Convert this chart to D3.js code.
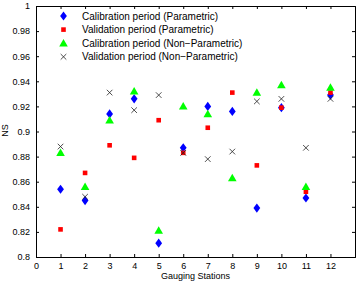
<!DOCTYPE html>
<html>
<head>
<meta charset="utf-8">
<script src="https://cdn.jsdelivr.net/npm/d3@7"></script>
<style>
  body { margin: 0; background: #fff; }
  text { font-family: "Liberation Sans", Arial, sans-serif; }
</style>
</head>
<body>
<div id="chart"></div>
<script>
// stations on the x axis
const stations = [1, 2, 3, 4, 5, 6, 7, 8, 9, 10, 11, 12];

// NS values
const calibParam    = [0.854, 0.845, 0.914, 0.926, 0.811, 0.887, 0.920, 0.916, 0.839, 0.919, 0.847, 0.929];
const validParam    = [0.822, 0.867, 0.889, 0.879, 0.909, 0.883, 0.903, 0.931, 0.873, 0.919, 0.852, 0.931];
const calibNonParam = [0.883, 0.856, 0.909, 0.932, 0.821, 0.920, 0.914, 0.863, 0.931, 0.937, 0.856, 0.935];
const validNonParam = [0.888, 0.848, 0.931, 0.917, 0.929, 0.883, 0.878, 0.884, 0.924, 0.926, 0.887, 0.926];

const seriesNames = [
  "Calibration period (Parametric)",
  "Validation period (Parametric)",
  "Calibration period (Non\u2212Parametric)",
  "Validation period (Non\u2212Parametric)"
];

const xTicks = [0, 1, 2, 3, 4, 5, 6, 7, 8, 9, 10, 11, 12];
const yTicks = [0.8, 0.82, 0.84, 0.86, 0.88, 0.9, 0.92, 0.94, 0.96, 0.98, 1];

const width = 357, height = 282;
const margin = { left: 36, right: 2, top: 6, bottom: 25 };

const svg = d3.select("#chart").append("svg")
  .attr("width", width)
  .attr("height", height);

const x = d3.scaleLinear().domain([0, 13])
  .range([margin.left, width - margin.right]);
const y = d3.scaleLinear().domain([0.8, 1])
  .range([height - margin.bottom, margin.top]);

// ---- axes (MATLAB style, ticks pointing inward) ----
const fmtY = d => d === 1 ? "1" : (d === 0.8 ? "0.8" : (d === 0.9 ? "0.9" : d3.format(".2f")(d)));

const gx = svg.append("g")
  .attr("transform", "translate(0," + y(0.8) + ")")
  .call(d3.axisBottom(x).tickValues(xTicks).tickSize(-3).tickPadding(6).tickFormat(d3.format("d")));
const gxTop = svg.append("g")
  .attr("transform", "translate(0," + y(1) + ")")
  .call(d3.axisTop(x).tickValues(xTicks).tickSize(-3).tickFormat(""));
const gy = svg.append("g")
  .attr("transform", "translate(" + x(0) + ",0)")
  .call(d3.axisLeft(y).tickValues(yTicks).tickSize(-3).tickPadding(6).tickFormat(fmtY));
const gyRight = svg.append("g")
  .attr("transform", "translate(" + x(13) + ",0)")
  .call(d3.axisRight(y).tickValues(yTicks).tickSize(-3).tickFormat(""));

[gx, gxTop, gy, gyRight].forEach(g => {
  g.select(".domain").attr("stroke", "#000").attr("stroke-width", 1);
  g.selectAll(".tick line").attr("stroke", "#000");
  g.selectAll(".tick text").attr("font-size", 9).attr("fill", "#000")
    .style("font-family", "'Liberation Sans', Arial, sans-serif");
});

// axis labels
svg.append("text")
  .attr("x", (x(0) + x(13)) / 2)
  .attr("y", 279)
  .attr("text-anchor", "middle")
  .attr("font-size", 9)
  .text("Gauging Stations");

svg.append("text")
  .attr("transform", "translate(8," + (y(0.9) - 1) + ") rotate(-90)")
  .attr("text-anchor", "middle")
  .attr("font-size", 9)
  .text("NS");

// ---- markers ----
function drawDiamond(g, cx, cy) {
  g.append("path")
    .attr("d", "M0,-4.6L3.4,0L0,4.6L-3.4,0Z")
    .attr("transform", "translate(" + cx + "," + cy + ")")
    .attr("fill", "#0000ff");
}
function drawSquare(g, cx, cy) {
  g.append("rect").attr("x", cx - 2.3).attr("y", cy - 2.3)
    .attr("width", 4.6).attr("height", 4.6).attr("fill", "#ff0000");
}
function drawTriangle(g, cx, cy) {
  g.append("path")
    .attr("d", "M0,-4.3L4.3,3.2L-4.3,3.2Z")
    .attr("transform", "translate(" + cx + "," + cy + ")")
    .attr("fill", "#00ff00");
}
function drawCross(g, cx, cy) {
  const s = 2.8;
  g.append("path")
    .attr("d", "M" + (cx - s) + "," + (cy - s) + "L" + (cx + s) + "," + (cy + s) +
               "M" + (cx - s) + "," + (cy + s) + "L" + (cx + s) + "," + (cy - s))
    .attr("stroke", "#222").attr("stroke-width", 0.8).attr("fill", "none");
}

const marks = svg.append("g");
stations.forEach((s, i) => drawDiamond(marks, x(s), y(calibParam[i])));
stations.forEach((s, i) => drawSquare(marks, x(s), y(validParam[i])));
stations.forEach((s, i) => drawTriangle(marks, x(s), y(calibNonParam[i])));
stations.forEach((s, i) => drawCross(marks, x(s), y(validNonParam[i])));

// ---- legend ----
const drawers = [drawDiamond, drawSquare, drawTriangle, drawCross];
const legend = svg.append("g");
seriesNames.forEach((name, i) => {
  const ly = 16 + i * 13.6;
  drawers[i](legend, 63.5, ly);
  legend.append("text")
    .attr("x", 82)
    .attr("y", ly + 3.5)
    .attr("font-size", 10)
    .text(name);
});
</script>
</body>
</html>
